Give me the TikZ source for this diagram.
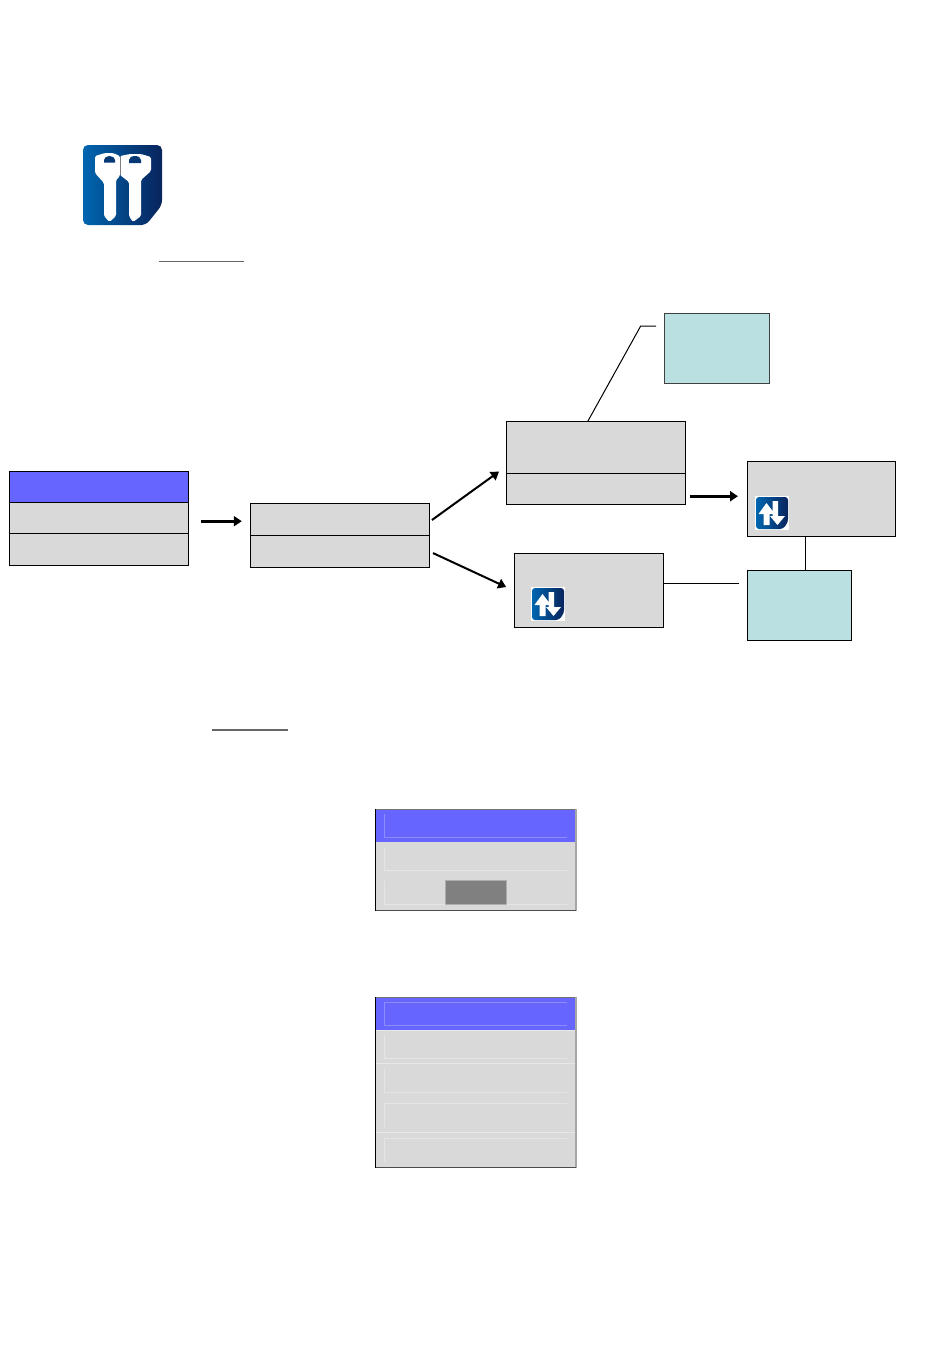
\documentclass[tikz,border=0pt]{standalone}
\usepackage{xcolor}
\usetikzlibrary{arrows.meta, positioning, calc}
\definecolor{noteblue}{RGB}{102,102,255}
\definecolor{notegrey}{RGB}{217,217,217}
\definecolor{notecyan}{RGB}{186,224,226}
\definecolor{iconlight}{RGB}{0,102,176}
\definecolor{icondark}{RGB}{8,36,92}
\tikzset{
    greybox/.style={draw=black, fill=notegrey, line width=1pt, anchor=north west, inner sep=0pt},
    bluebox/.style={greybox, fill=noteblue},
    cyanbox/.style={greybox, fill=notecyan},
    fatarrow/.style={-{Triangle[length=8pt,width=10pt]}, line width=2.6pt},
    thinarrow/.style={fatarrow, line width=2pt},
    thinline/.style={line width=1pt},
    iconbody/.style={left color=iconlight, right color=icondark, draw=none},
    % Icona con le due frecce
    updownicon/.pic={
        \fill[white] (0,0) rectangle (34,34);
        \path[iconbody, rounded corners=3pt] (1,1) -- (33,1) -- (33,26) -- (28,33) -- (1,33) -- cycle;
        \fill[white] (11.5,7) -- (20,18) -- (14.5,18) -- (14.5,29) -- (8.5,29) -- (8.5,18) -- (3.5,18) -- cycle;
        \fill[white] (17.5,5) -- (23,5) -- (23,20) -- (30,20) -- (22.5,29) -- (15,20) -- (17.5,20) -- cycle;
    },
}

\begin{document}
\begin{tikzpicture}[x=1pt, y=-1pt]
    \useasboundingbox[fill=white] (0,0) rectangle (950,1353);

    % Icona con le chiavi
    \path[iconbody, rounded corners=5pt] (83,145) -- (162,145) -- (162,205) -- (146,225) -- (83,225) -- cycle;
    \begin{scope}[shift={(83,145)}]
        \fill[white, rounded corners=1.5pt] (12,11) -- (22,8) -- (30,8) -- (37,11) -- (37,31) -- (33,35) -- (33,71) -- (26.5,77) -- (21,71) -- (21,38) -- (12,28) -- cycle;
        \fill[white, rounded corners=1.5pt] (37,11) -- (47,9) -- (58,9) -- (68,12) -- (68,26) -- (58,35) -- (58,71) -- (50,77) -- (46,71) -- (46,37) -- (37,30) -- cycle;
        \fill[icondark!70!iconlight] (21,17.5) -- (21,15) arc[start angle=180, end angle=360, x radius=5.5, y radius=4] -- (32,17.5) -- cycle;
        \fill[icondark!70!iconlight] (46,18) -- (46,15) arc[start angle=180, end angle=360, x radius=6, y radius=4] -- (58,18) -- cycle;
        \draw[gray, line width=0.4pt] (37,12) -- (37,30);
    \end{scope}

    % Linee sottolineate
    \draw[black!60, line width=1.2pt] (159,261.5) -- (244,261.5);
    \draw[black!60, line width=1.2pt] (212,730) -- (288,730);

    % Menu a sinistra
    \node[bluebox, minimum width=179pt, minimum height=31pt] (menutop) at (9.3,471.3) {};
    \node[greybox, minimum width=179pt, minimum height=31pt] (menumid) at (9.3,502.3) {};
    \node[greybox, minimum width=179pt, minimum height=32pt] (menubot) at (9.3,533.3) {};

    % Box centrale
    \node[greybox, minimum width=179pt, minimum height=32pt] (midtop) at (250.3,503.3) {};
    \node[greybox, minimum width=179pt, minimum height=32pt] (midbot) at (250.3,535.3) {};

    % Box in alto e in basso
    \node[greybox, minimum width=179pt, minimum height=52pt] (uptop) at (506.3,421.3) {};
    \node[greybox, minimum width=179pt, minimum height=31pt] (upbot) at (506.3,473.3) {};
    \node[greybox, minimum width=149pt, minimum height=74pt] (lowbox) at (514.3,553.3) {};
    \node[greybox, minimum width=148pt, minimum height=75pt] (rightbox) at (747.3,461.3) {};

    % Note azzurre
    \node[cyanbox, draw=black!75, minimum width=105.6pt, minimum height=69.7pt] (notetop) at (663.7,313.3) {};
    \node[cyanbox, minimum width=104pt, minimum height=70pt] (notebot) at (747.3,570.3) {};

    \pic at (531,587) {updownicon};
    \pic at (755,496) {updownicon};

    % Frecce
    \draw[fatarrow, shorten <=11.7pt, shorten >=8.5pt] ($(menumid.east)+(0,2.9)$) -- ($(midtop.west)+(0,1.4)$);
    \draw[thinarrow, shorten <=2pt, shorten >=9pt] ($(midtop.east)+(0,1.4)$) -- ($(upbot.north west)+(0,-7)$);
    \draw[thinarrow, shorten <=3pt, shorten >=9pt] (midbot.east) -- (lowbox.west);
    \draw[fatarrow, shorten <=3.6pt, shorten >=9.3pt] ($(upbot.east)+(0,6.9)$) -- ($(rightbox.west)+(0,-3.1)$);

    % Linee delle note
    \coordinate (elbow) at ($(notetop.north west)+(-23,12.7)$);
    \coordinate (noteend) at ($(notetop.north west)+(-7.7,12.7)$);
    \draw[thinline] ($(uptop.north)+(-8.5,0)$) -- (elbow) -- (noteend);
    \draw[thinline] ($(rightbox.south)+(-16,0)$) -- ($(notebot.north)+(6,0)$);
    \draw[thinline] ($(lowbox.east)+(0,-7)$) -- ($(notebot.west)+(-8.8,-22)$);

    % Prima schermata
    \begin{scope}
        \fill[notegrey] (375.3,809) rectangle (575.7,910.3);
        \fill[noteblue] (375.3,809) rectangle (575,842);
        \draw[black!55, line width=1pt] (375,809) -- (576,809);
        \draw[black!35, line width=1.5pt] (576,809) -- (576,910.5);
        \draw[black!70, line width=1pt] (375,910.3) -- (576,910.3);
        \draw[black, line width=0.8pt] (375.3,809) -- (375.3,910.5);
        \draw[noteblue!75!white, line width=0.8pt] (384.3,814) -- (384.3,837.3) -- (567,837.3);
        \foreach \ya/\yb in {846.7/870.3, 880.7/904.3}
            \draw[black!10, line width=0.8pt] (384.3,\ya) -- (384.3,\yb) -- (567,\yb);
        \filldraw[fill=black!50, draw=black!32, line width=0.8pt] (445,880.7) rectangle (506.7,904.3);
    \end{scope}

    % Seconda schermata
    \begin{scope}
        \fill[notegrey] (375.3,997) rectangle (575.7,1167.3);
        \fill[noteblue] (375.3,997) rectangle (575,1030.3);
        \foreach \yy in {1030.3, 1063.3, 1132.3}
            \draw[black!9, line width=0.8pt] (375.3,\yy) -- (575,\yy);
        \draw[black!55, line width=1pt] (375,997) -- (576,997);
        \draw[black!35, line width=1.5pt] (576,997) -- (576,1167.5);
        \draw[black!70, line width=1pt] (375,1167.3) -- (576,1167.3);
        \draw[black, line width=0.8pt] (375.3,997) -- (375.3,1167.5);
        \draw[noteblue!75!white, line width=0.8pt] (567,1002.3) -- (384.3,1002.3) -- (384.3,1025.3) -- (567,1025.3);
        \foreach \ya/\yb in {1035.3/1058.3, 1069/1092.3}
            \draw[black!10, line width=0.8pt] (384.3,\ya) -- (384.3,\yb) -- (567,\yb);
        \foreach \ya/\yb in {1103.3/1126.7, 1138.3/1161.7}
            \draw[black!10, line width=0.8pt] (567,\ya) -- (384.3,\ya) -- (384.3,\yb);
    \end{scope}
\end{tikzpicture}
\end{document}
